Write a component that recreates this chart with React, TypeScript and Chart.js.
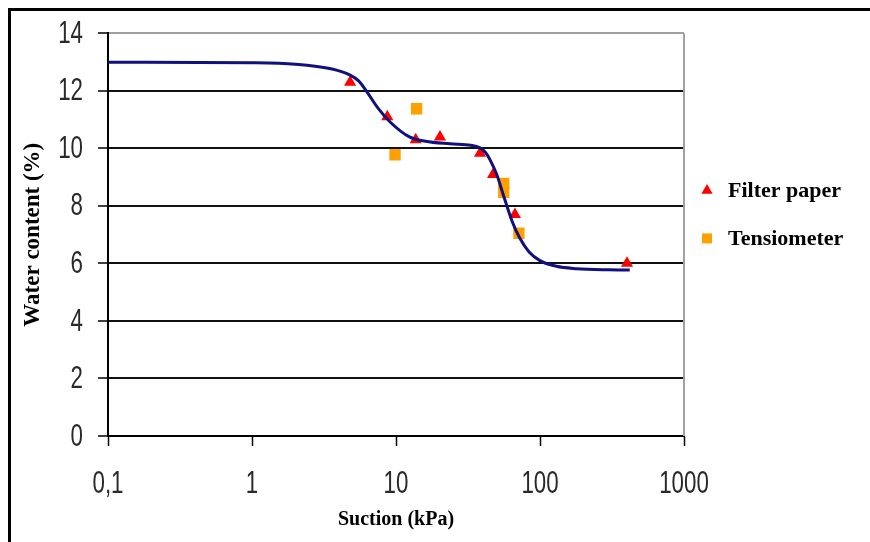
import React, { useEffect, useRef } from "react";
import { Chart, registerables } from "chart.js";

Chart.register(...registerables);

// Axis ticks
const suctionTicks = [0.1, 1, 10, 100, 1000];
const suctionTickLabels = ["0,1", "1", "10", "100", "1000"];
const waterTicks = [0, 2, 4, 6, 8, 10, 12, 14];

// Filter paper measurements
const filterSuction = [4.8, 8.7, 13.7, 20.2, 38.3, 47.2, 67, 402];
const filterWater = [12.3, 11.1, 10.3, 10.4, 9.83, 9.09, 7.7, 6.01];

// Tensiometer measurements
const tensioSuction = [9.85, 13.9, 56, 56, 71.4];
const tensioWater = [9.78, 11.38, 8.78, 8.47, 7.05];

// Fitted curve
const fitSuction = [0.1, 1, 2, 3.6, 4.8, 5.5, 6.3, 7.5, 9.1, 12.4, 16, 23.7, 33, 38, 42, 45, 50, 55.5, 64, 72, 84, 100, 130, 180, 300, 420];
const fitWater = [13.0, 12.98, 12.93, 12.76, 12.55, 12.35, 11.96, 11.4, 10.92, 10.4, 10.25, 10.16, 10.11, 10.03, 9.85, 9.6, 9.1, 8.4, 7.47, 6.9, 6.4, 6.1, 5.9, 5.82, 5.78, 5.77];

const seriesNames = ["Filter paper", "Tensiometer"];

const TICK_FONT = "'Liberation Sans', Arial, sans-serif";
const SERIF = "'Liberation Serif', 'Times New Roman', serif";

const framePlugin = {
  id: "frame",
  beforeDraw(chart: any) {
    const c = chart.ctx;
    c.save();
    c.fillStyle = "#fff";
    c.fillRect(0, 0, chart.width, chart.height);
    c.restore();
  },
  afterDraw(chart: any) {
    const c = chart.ctx;
    const a = chart.chartArea;
    c.save();
    // right gray border of plot area
    c.strokeStyle = "#a0a0a0";
    c.lineWidth = 2;
    c.beginPath();
    c.moveTo(a.right, a.top);
    c.lineTo(a.right, a.bottom);
    c.stroke();
    // outer frame (top and left)
    c.strokeStyle = "#000";
    c.lineWidth = 3;
    c.beginPath();
    c.moveTo(chart.width, 9.5);
    c.lineTo(9.5, 9.5);
    c.lineTo(9.5, chart.height);
    c.stroke();

    // narrow tick labels, placed from the library's scales
    c.fillStyle = "#2a2a2a";
    c.font = "31px " + TICK_FONT;
    const xs = chart.scales.x;
    c.textAlign = "center";
    c.textBaseline = "middle";
    xs.ticks.forEach((t: any) => {
      const px = xs.getPixelForValue(t.value);
      c.save();
      c.translate(px, a.bottom + 48);
      c.scale(0.72, 1);
      c.fillText(String(t.label), 0, 0);
      c.restore();
    });
    const ys = chart.scales.y;
    c.textAlign = "right";
    ys.ticks.forEach((t: any) => {
      const py = ys.getPixelForValue(t.value);
      c.save();
      c.translate(a.left - 25, py + 1);
      c.scale(0.72, 1);
      c.fillText(String(t.label), 0, 0);
      c.restore();
    });

    // legend
    const ds = chart.data.datasets;
    const items = [ds[1], ds[2]];
    const lx = a.right + 23;
    const ly = [a.top + 157, a.top + 205];
    items.forEach((d: any, i: number) => {
      const y = ly[i];
      c.fillStyle = d.backgroundColor;
      if (d.pointStyle === "triangle") {
        const r = 6.5;
        c.beginPath();
        c.moveTo(lx, y - r);
        c.lineTo(lx + r * 0.866, y + r / 2);
        c.lineTo(lx - r * 0.866, y + r / 2);
        c.closePath();
        c.fill();
      } else {
        c.fillRect(lx - 5, y - 5, 10, 10);
      }
      c.fillStyle = "#000";
      c.font = "bold 22px " + SERIF;
      c.textBaseline = "middle";
      c.textAlign = "left";
      c.fillText(d.label, lx + 21, y + 1);
    });
    c.restore();
  },
};

export default function App() {
  const ref = useRef<HTMLCanvasElement | null>(null);

  useEffect(() => {
    if (!ref.current) return;
    const chart = new Chart(ref.current, {
      type: "scatter",
      data: {
        datasets: [
          {
            label: "Fit",
            data: fitSuction.map((x, i) => ({ x, y: fitWater[i] })),
            showLine: true,
            borderColor: "#10107e",
            backgroundColor: "#10107e",
            borderWidth: 3,
            pointRadius: 0,
            cubicInterpolationMode: "monotone",
            order: 0,
          },
          {
            label: seriesNames[0],
            data: filterSuction.map((x, i) => ({ x, y: filterWater[i] })),
            pointStyle: "triangle",
            pointRadius: 7,
            backgroundColor: "#ff0000",
            borderColor: "#ff0000",
            borderWidth: 0,
            order: 1,
          },
          {
            label: seriesNames[1],
            data: tensioSuction.map((x, i) => ({ x, y: tensioWater[i] })),
            pointStyle: "rect",
            pointRadius: 8,
            backgroundColor: "#ffa000",
            borderColor: "#ffa000",
            borderWidth: 0,
            order: 2,
          },
        ],
      },
      options: {
        animation: false,
        responsive: false,
        devicePixelRatio: 1,
        layout: { padding: { left: 0, right: 186, top: 31, bottom: 0 } },
        plugins: {
          legend: { display: false },
          tooltip: { enabled: false },
        },
        scales: {
          x: {
            type: "logarithmic",
            min: 0.1,
            max: 1000,
            afterBuildTicks: (s: any) => {
              s.ticks = suctionTicks.map((v) => ({ value: v }));
            },
            afterFit: (s: any) => {
              s.height = 106;
            },
            ticks: {
              autoSkip: false,
              maxRotation: 0,
              padding: 20,
              color: "rgba(0,0,0,0)",
              font: { family: TICK_FONT, size: 29 },
              callback: (v: any) => {
                const i = suctionTicks.indexOf(Number(v));
                return i >= 0 ? suctionTickLabels[i] : "";
              },
            },
            grid: {
              drawOnChartArea: false,
              tickLength: 10,
              tickColor: "#000",
              tickWidth: 1.5,
            },
            border: { color: "#000", width: 2 },
            title: {
              display: true,
              text: "Suction (kPa)",
              color: "#000",
              font: { family: SERIF, size: 20, weight: "bold" },
              padding: { top: 0, bottom: 10 },
            },
          },
          y: {
            type: "linear",
            min: 0,
            max: 14,
            afterBuildTicks: (s: any) => {
              s.ticks = waterTicks.map((v) => ({ value: v }));
            },
            afterFit: (s: any) => {
              s.width = 108;
            },
            ticks: {
              padding: 16,
              color: "rgba(0,0,0,0)",
              font: { family: TICK_FONT, size: 29 },
            },
            grid: {
              color: (ctx: any) => (ctx.tick && ctx.tick.value === 14 ? "#a0a0a0" : "#111"),
              lineWidth: 2,
              tickLength: 10,
              tickColor: "#000",
              tickWidth: 1.5,
            },
            border: { color: "#000", width: 2 },
            title: {
              display: true,
              text: "Water content (%)",
              color: "#000",
              font: { family: SERIF, size: 23, weight: "bold" },
              padding: { top: 19, bottom: 0 },
            },
          },
        },
      },
      plugins: [framePlugin],
    });
    return () => chart.destroy();
  }, []);

  return (
    <canvas
      ref={ref}
      width={870}
      height={542}
      style={{ position: "fixed", left: 0, top: 0, width: "870px", height: "542px" }}
    />
  );
}
